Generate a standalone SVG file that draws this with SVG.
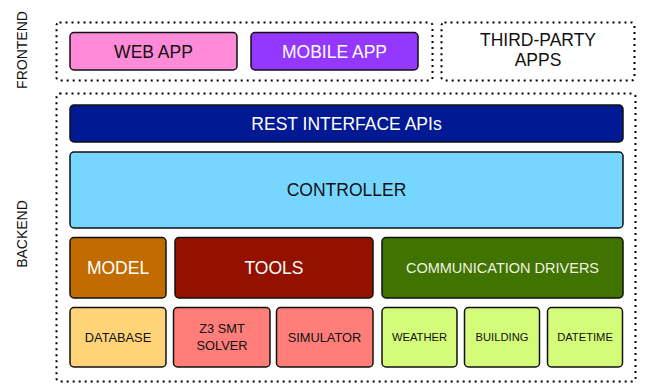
<svg xmlns="http://www.w3.org/2000/svg" width="647" height="385" viewBox="0 0 647 385">
  <style>
    text { font-family: "Liberation Sans", Arial, Helvetica, sans-serif; text-anchor: middle; }
    .zone { fill: none; stroke: #000; stroke-width: 2; stroke-dasharray: 2 4; }
    .box { stroke: #111; stroke-width: 1.5; }
    .big { font-size: 17.5px; }
    .mid { font-size: 14.5px; }
    .sm { font-size: 12.8px; }
    .xs { font-size: 11.2px; }
    .dark { fill: #111; }
    .light { fill: #fff; }
    .side { font-size: 14px; fill: #111; }
  </style>

  <rect width="647" height="385" fill="#fff"/>

  <!-- layer labels -->
  <g id="label-frontend">
    <text class="side" transform="translate(27,50) rotate(-90)">FRONTEND</text>
  </g>
  <g id="label-backend">
    <text class="side" transform="translate(27,234) rotate(-90)">BACKEND</text>
  </g>

  <!-- dotted layer containers -->
  <g id="frontend-zone">
    <rect class="zone" x="56.5" y="22.5" width="376" height="58" rx="3"/>
  </g>
  <g id="third-party">
    <rect class="zone" x="441.5" y="22.5" width="193" height="58" rx="3"/>
    <text class="big dark" x="538" y="46">THIRD-PARTY</text>
    <text class="big dark" x="538" y="66">APPS</text>
  </g>
  <g id="backend-zone">
    <rect class="zone" x="56.5" y="93.5" width="579" height="288" rx="3"/>
  </g>

  <!-- frontend clients -->
  <g id="web-app">
    <rect class="box" x="70" y="32.5" width="167" height="37.5" rx="4" fill="#FF8AD8"/>
    <text class="big dark" x="153.5" y="57.5">WEB APP</text>
  </g>
  <g id="mobile-app">
    <rect class="box" x="251" y="32.5" width="167" height="37.5" rx="4" fill="#9437FF"/>
    <text class="big light" x="334.5" y="57.5">MOBILE APP</text>
  </g>

  <!-- backend stack -->
  <g id="rest-api">
    <rect class="box" x="70" y="105" width="553" height="37" rx="4" fill="#011993"/>
    <text class="big light" x="346.5" y="129.5">REST INTERFACE APIs</text>
  </g>
  <g id="controller">
    <rect class="box" x="70" y="152" width="553" height="76" rx="4" fill="#76D6FF"/>
    <text class="big dark" x="346.5" y="196">CONTROLLER</text>
  </g>

  <g id="model">
    <rect class="box" x="70" y="237.5" width="96" height="60.5" rx="4" fill="#C26C00"/>
    <text class="big light" x="118" y="274">MODEL</text>
  </g>
  <g id="tools">
    <rect class="box" x="175" y="237.5" width="198" height="60.5" rx="4" fill="#941100"/>
    <text class="big light" x="274" y="274">TOOLS</text>
  </g>
  <g id="communication-drivers">
    <rect class="box" x="382" y="237.5" width="241" height="60.5" rx="4" fill="#407300"/>
    <text class="mid" fill="#eef2e4" x="502.5" y="272.5">COMMUNICATION DRIVERS</text>
  </g>

  <g id="database">
    <rect class="box" x="70" y="307.5" width="96" height="59.5" rx="4" fill="#FFD479"/>
    <text class="sm dark" x="118" y="341.5">DATABASE</text>
  </g>
  <g id="z3-solver">
    <rect class="box" x="173.5" y="307.5" width="96.5" height="59.5" rx="4" fill="#FF7E79"/>
    <text class="sm dark" x="222" y="333">Z3 SMT</text>
    <text class="sm dark" x="222" y="350">SOLVER</text>
  </g>
  <g id="simulator">
    <rect class="box" x="276.5" y="307.5" width="96.5" height="59.5" rx="4" fill="#FF7E79"/>
    <text class="sm dark" x="324.5" y="341.5">SIMULATOR</text>
  </g>
  <g id="weather">
    <rect class="box" x="382" y="307.5" width="75" height="59.5" rx="4" fill="#D4FB79"/>
    <text class="xs dark" x="419.5" y="340.5">WEATHER</text>
  </g>
  <g id="building">
    <rect class="box" x="464.5" y="307.5" width="75" height="59.5" rx="4" fill="#D4FB79"/>
    <text class="xs dark" x="502" y="340.5">BUILDING</text>
  </g>
  <g id="datetime">
    <rect class="box" x="547.5" y="307.5" width="75" height="59.5" rx="4" fill="#D4FB79"/>
    <text class="xs dark" x="585" y="340.5">DATETIME</text>
  </g>

  <!-- no connectors: the layers are stacked -->
  <g id="connectors"/>
</svg>
